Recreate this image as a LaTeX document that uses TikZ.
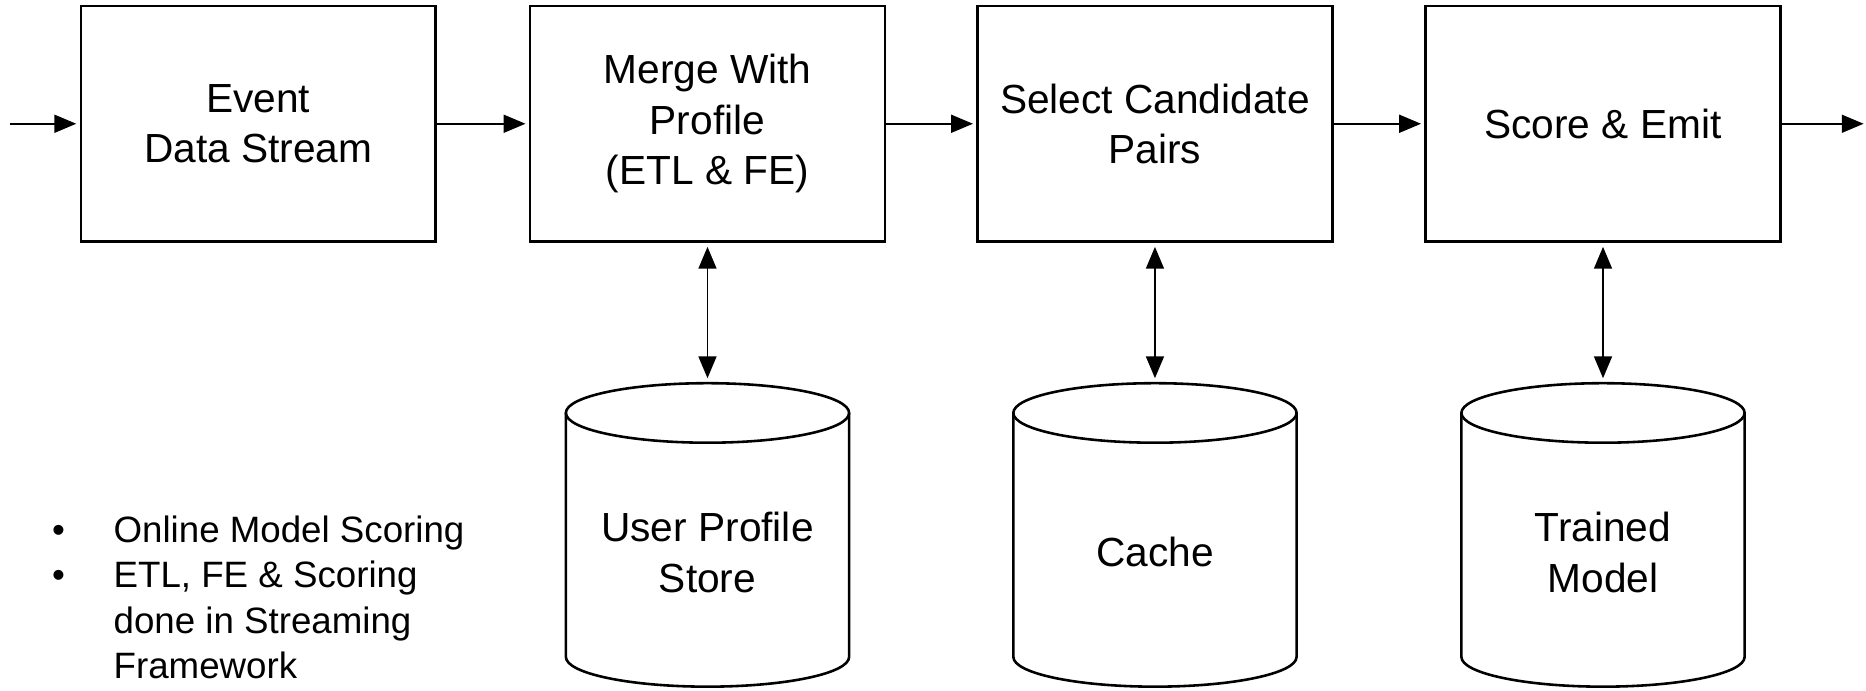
\documentclass[tikz,border=0pt]{standalone}
\usepackage{fontspec}
\setmainfont{Liberation Sans}
\usetikzlibrary{arrows.meta}
\begin{document}
\begin{tikzpicture}[x=0.6pt,y=-0.6pt,
  stage/.style={draw, line width=1.3pt, minimum width=178.8pt, minimum height=118.8pt, inner sep=0pt, align=center, font=\fontsize{20.5}{25.5}\selectfont},
  flow/.style={-{Triangle[length=11pt,width=9pt]}, line width=1pt},
  dflow/.style={{Triangle[length=11pt,width=9pt]}-{Triangle[length=11pt,width=9pt]}, line width=1pt},
  db/.style={line width=1.3pt},
  dblabel/.style={align=center, inner sep=0pt, font=\fontsize{20.5}{25.5}\selectfont},
  notes/.style={anchor=base west, inner sep=0pt, font=\fontsize{18.5}{22.8}\selectfont}
]
\useasboundingbox (0,0) rectangle (1568,580);

% stages
\node[stage] (b1) at (217,104) {Event\\Data Stream};
\node[stage] (b2) at (594.5,104) {Merge With\\Profile\\(ETL \& FE)};
\node[stage] (b3) at (970.5,104) {Select Candidate\\Pairs};
\node[stage] (b4) at (1347,104) {Score \& Emit};

% cylinders
\foreach \cx/\nm in {594.5/c1, 970.5/c2, 1347/c3}{
  \draw[db] (\cx,347) ellipse[x radius=119, y radius=25];
  \draw[db] (\cx-119,347) -- (\cx-119,552) arc[start angle=180, end angle=0, x radius=119, y radius=25] -- (\cx+119,347);
  \coordinate (\nm) at (\cx,322);
}

\node[dblabel] (l1) at (594.5,464) {User Profile\\Store};
\node[dblabel] (l2) at (970.5,464) {Cache};
\node[dblabel] (l3) at (1347,464) {Trained\\Model};

% flow arrows
\coordinate (in) at (8,104);
\coordinate (out) at (1566,104);
\draw[flow, shorten >=1.7pt] (in) -- (b1.west);
\draw[flow, shorten >=1.7pt] (b1.east) -- (b2.west);
\draw[flow, shorten >=1.7pt] (b2.east) -- (b3.west);
\draw[flow, shorten >=1.7pt] (b3.east) -- (b4.west);
\draw[flow] (b4.east) -- (out);

% store access
\draw[dflow, shorten <=2pt, shorten >=2.5pt] (b2.south) -- (c1);
\draw[dflow, shorten <=2pt, shorten >=2.5pt] (b3.south) -- (c2);
\draw[dflow, shorten <=2pt, shorten >=2.5pt] (b4.south) -- (c3);

% notes
\node[notes] (notes) at (43.5,456) {\begin{tabular}[t]{@{}p{31pt}@{}l@{}}\textbullet & Online Model Scoring\\ \textbullet & ETL, FE \& Scoring\\ & done in Streaming\\ & Framework\end{tabular}};
\end{tikzpicture}
\end{document}
